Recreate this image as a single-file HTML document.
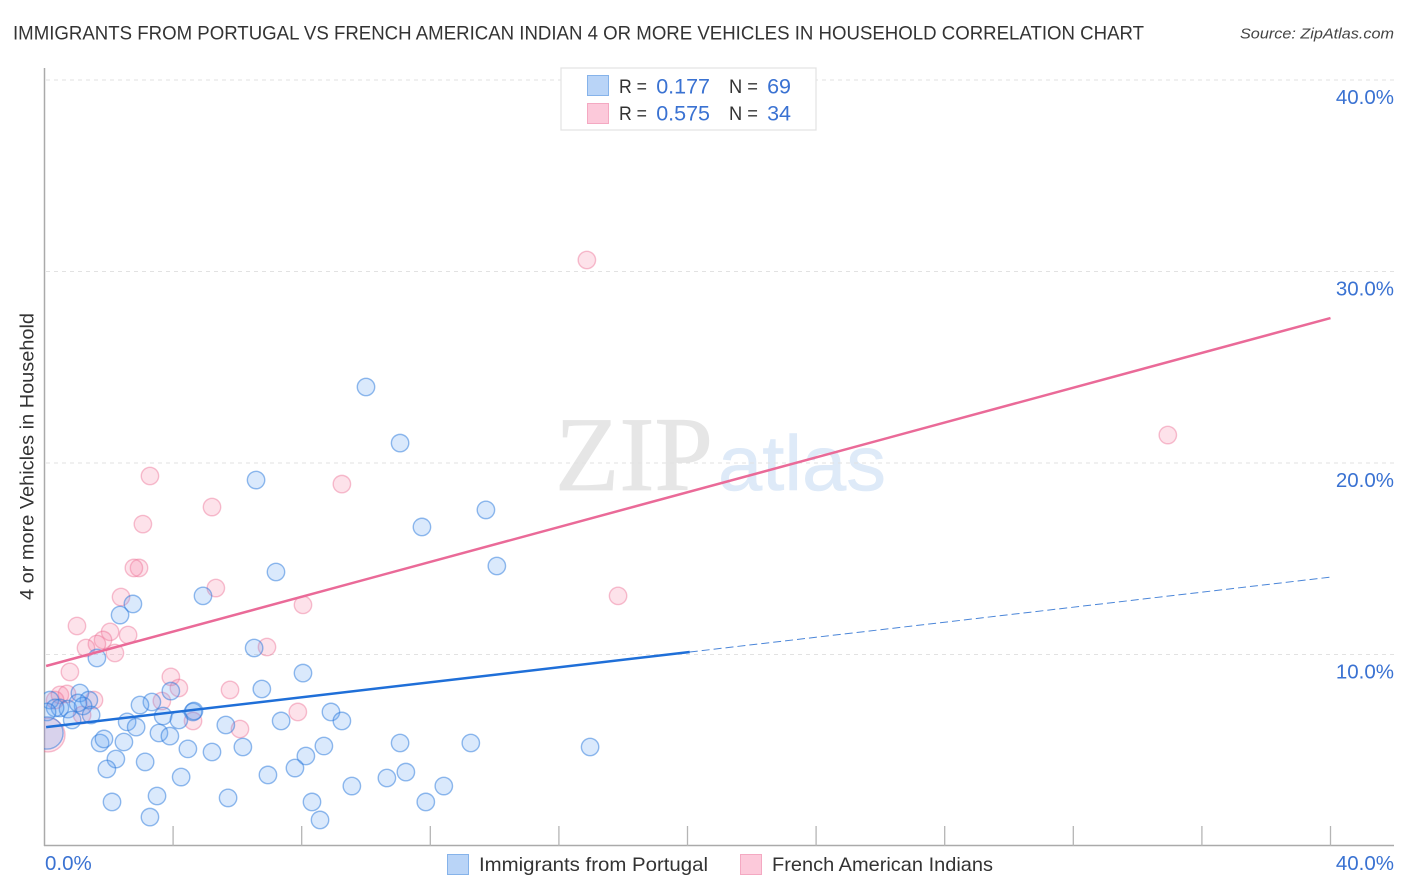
<!DOCTYPE html>
<html lang="en">
<head>
<meta charset="utf-8">
<title>Immigrants from Portugal vs French American Indian correlation chart</title>
<style>
  html, body { margin: 0; padding: 0; background: #fff; }
  svg { display: block; font-family: "Liberation Sans", sans-serif; }
</style>
</head>
<body>
<svg id="chart" xmlns="http://www.w3.org/2000/svg" width="1406" height="892" viewBox="0 0 1406 892">
  <defs>
    <clipPath id="plot-clip"><rect x="44" y="60" width="1350" height="786"/></clipPath>
  </defs>
  <rect width="1406" height="892" fill="#fff"/>

  <text x="13" y="39.500" font-size="19.500" fill="#333" textLength="1131" lengthAdjust="spacingAndGlyphs">IMMIGRANTS FROM PORTUGAL VS FRENCH AMERICAN INDIAN 4 OR MORE VEHICLES IN HOUSEHOLD CORRELATION CHART</text>
  <text x="1394" y="38.500" font-size="15" font-style="italic" fill="#444" text-anchor="end" textLength="154" lengthAdjust="spacingAndGlyphs">Source: ZipAtlas.com</text>

  <g>
    <text x="555" y="490" font-family="'Liberation Serif', serif" font-size="106" fill="#e6e6e6" stroke="#e6e6e6" stroke-width="0.800" textLength="158" lengthAdjust="spacingAndGlyphs">ZIP</text>
    <text x="718" y="490" font-size="78" fill="#deeaf8" stroke="#deeaf8" stroke-width="0.600" textLength="168" lengthAdjust="spacingAndGlyphs">atlas</text>
  </g>

  <g id="grid"></g>
  <g id="axes"></g>
  <g id="pink-points" clip-path="url(#plot-clip)"></g>
  <g id="blue-points" clip-path="url(#plot-clip)"></g>
  <g id="trends"></g>
  <g id="labels"></g>

  <text transform="translate(33.500 456.500) rotate(-90)" font-size="19" fill="#333" text-anchor="middle" textLength="287" lengthAdjust="spacingAndGlyphs">4 or more Vehicles in Household</text>

  <g>
    <rect x="561" y="68" width="255" height="62" fill="#fff" stroke="#e2e2e2" stroke-width="1.200"/>
    <rect x="587.500" y="75.500" width="21" height="20" fill="#b9d4f7" stroke="#86b3ea" stroke-width="1"/>
    <rect x="587.500" y="103.500" width="21" height="20" fill="#fcc9da" stroke="#f4a9c2" stroke-width="1"/>
    <g font-size="19.500" fill="#333">
      <text x="619" y="93" textLength="28" lengthAdjust="spacingAndGlyphs">R =</text>
      <text x="729" y="93" textLength="29" lengthAdjust="spacingAndGlyphs">N =</text>
      <text x="619" y="120" textLength="28" lengthAdjust="spacingAndGlyphs">R =</text>
      <text x="729" y="120" textLength="29" lengthAdjust="spacingAndGlyphs">N =</text>
    </g>
    <g font-size="21.500" fill="#3a72d2" text-anchor="end">
      <text x="710" y="93.500">0.177</text>
      <text x="791" y="93.500">69</text>
      <text x="710" y="120.500">0.575</text>
      <text x="791" y="120.500">34</text>
    </g>
  </g>

  <g>
    <rect x="447.500" y="854.500" width="21" height="20" fill="#b9d4f7" stroke="#86b3ea" stroke-width="1"/>
    <text x="479" y="871" font-size="19.500" fill="#333" textLength="229" lengthAdjust="spacingAndGlyphs">Immigrants from Portugal</text>
    <rect x="740.500" y="854.500" width="21" height="20" fill="#fcc9da" stroke="#f4a9c2" stroke-width="1"/>
    <text x="772" y="871" font-size="19.500" fill="#333" textLength="221" lengthAdjust="spacingAndGlyphs">French American Indians</text>
  </g>
</svg>

<script>
const yTickValues = [10, 20, 30, 40];
const yTickLabels = ["10.0%", "20.0%", "30.0%", "40.0%"];
const xTickValues = [4, 8, 12, 16, 20, 24, 28, 32, 36, 40];
const xEndValues = [0, 40];
const xEndLabels = ["0.0%", "40.0%"];

const blueX = [10.00,11.06,6.58,13.73,11.74,14.07,7.20,4.93,2.75,2.35,1.63,6.52,8.04,6.76,3.93,1.10,1.38,3.34,2.97,0.17,0.48,0.73,1.20,1.45,0.86,0.33,4.62,4.65,8.91,3.69,4.18,2.57,2.85,5.64,7.36,9.25,3.56,3.90,1.73,1.85,2.47,4.46,5.21,6.17,11.06,13.26,16.97,8.13,8.69,2.22,3.13,1.94,4.25,6.95,7.79,10.65,11.24,9.56,12.42,3.50,5.71,2.10,8.32,11.86,3.28,8.57,0.08,1.04,0.08];
const blueY = [23.97,21.04,19.11,17.55,16.66,14.62,14.31,13.06,12.64,12.06,9.82,10.34,9.03,8.20,8.09,7.99,7.62,7.52,7.36,7.62,7.21,7.15,7.31,6.84,6.58,7.21,7.00,7.05,7.00,6.79,6.58,6.48,6.21,6.32,6.53,6.53,5.90,5.74,5.38,5.59,5.43,5.07,4.91,5.17,5.38,5.38,5.17,4.70,5.22,4.54,4.39,4.02,3.60,3.71,4.07,3.55,3.86,3.13,3.13,2.61,2.51,2.30,2.30,2.30,1.51,1.36,7.00,7.47,5.90];
const blueWeight = [1,1,1,1,1,1,1,1,1,1,1,1,1,1,1,1,1,1,1,1,1,1,1,1,1,1,1,1,1,1,1,1,1,1,1,1,1,1,1,1,1,1,1,1,1,1,1,1,1,1,1,1,1,1,1,1,1,1,1,1,1,1,1,1,1,1,1,1,3.4];

const pinkX = [16.87,34.94,9.25,3.28,5.21,3.06,2.94,2.78,17.84,5.33,2.38,8.04,1.01,2.04,2.60,1.82,1.63,1.29,2.19,6.92,0.79,3.93,4.18,5.77,1.54,3.65,7.88,4.62,6.08,0.48,0.70,0.33,1.17,0.11];
const pinkY = [30.60,21.46,18.90,19.32,17.70,16.81,14.52,14.52,13.06,13.47,13.00,12.59,11.49,11.18,11.02,10.76,10.55,10.34,10.08,10.39,9.09,8.83,8.25,8.15,7.62,7.57,7.00,6.53,6.11,7.89,7.94,7.62,6.84,5.80];
const pinkWeight = [1,1,1,1,1,1,1,1,1,1,1,1,1,1,1,1,1,1,1,1,1,1,1,1,1,1,1,1,1,1,1,1,1,3.8];

const blueTrendX = [0.05, 20.07];
const blueTrendY = [6.21, 10.13];
const blueForecastX = [20.07, 40.05];
const blueForecastY = [10.13, 14.05];
const pinkTrendX = [0.05, 40];
const pinkTrendY = [9.40, 27.57];

const NS = "http://www.w3.org/2000/svg";
const xScale = v => 44.5 + v * 32.15;
const yScale = v => 846 - v * 19.15;
const radius = w => 8.7 * Math.sqrt(w);

function make(tag, attrs, parent) {
  const el = document.createElementNS(NS, tag);
  for (const k in attrs) el.setAttribute(k, attrs[k]);
  parent.appendChild(el);
  return el;
}

const gridG = document.getElementById("grid");
const axesG = document.getElementById("axes");
const labelsG = document.getElementById("labels");

yTickValues.forEach((v, i) => {
  const line = make("line", {x1: 46, x2: 1394, y1: yScale(v), y2: yScale(v), stroke: "#e2e2e2", "stroke-width": 1, "stroke-dasharray": "4 4"}, gridG);
  
  
  const t = make("text", {x: 1394, y: yScale(v) + 24, "font-size": 20.5, fill: "#3a72d2", "text-anchor": "end"}, labelsG);
  
  
  t.textContent = yTickLabels[i];
});

const yAxis = make("line", {x1: 44.5, x2: 44.5, y1: 68, y2: 846, stroke: "#aaa", "stroke-width": 1.5}, axesG);


const xAxis = make("line", {x1: 44, x2: 1394, y1: 845.5, y2: 845.5, stroke: "#aaa", "stroke-width": 1.5}, axesG);



xTickValues.forEach(v => {
  const tick = make("line", {x1: xScale(v), x2: xScale(v), y1: 826, y2: 846, stroke: "#b5b5b5", "stroke-width": 1.3}, axesG);
  
  
});

xEndValues.forEach((v, i) => {
  const t = make("text", {x: i === 0 ? xScale(v) + 0.5 : 1394, y: 870, "font-size": 20.5, fill: "#3a72d2", "text-anchor": i === 0 ? "start" : "end"}, labelsG);
  
  
  t.textContent = xEndLabels[i];
});

const pinkG = document.getElementById("pink-points");
pinkX.forEach((v, i) => {
  const c = make("circle", {cx: xScale(v), cy: yScale(pinkY[i]), r: radius(pinkWeight[i]), fill: "rgba(245,130,165,0.23)", stroke: "rgba(235,100,140,0.4)", "stroke-width": 1.4}, pinkG);
  
  
});

const blueG = document.getElementById("blue-points");
blueX.forEach((v, i) => {
  const c = make("circle", {cx: xScale(v), cy: yScale(blueY[i]), r: radius(blueWeight[i]), fill: "rgba(95,160,240,0.23)", stroke: "rgba(40,120,220,0.5)", "stroke-width": 1.4}, blueG);
  
  
});

const trendsG = document.getElementById("trends");
const blueForecast = make("line", {x1: xScale(blueForecastX[0]), y1: yScale(blueForecastY[0]), x2: xScale(blueForecastX[1]), y2: yScale(blueForecastY[1]), stroke: "#4a85d8", "stroke-width": 1, "stroke-dasharray": "8 4"}, trendsG);


const blueTrend = make("line", {x1: xScale(blueTrendX[0]), y1: yScale(blueTrendY[0]), x2: xScale(blueTrendX[1]), y2: yScale(blueTrendY[1]), stroke: "#1f6fd8", "stroke-width": 2.5}, trendsG);


const pinkTrend = make("line", {x1: xScale(pinkTrendX[0]), y1: yScale(pinkTrendY[0]), x2: xScale(pinkTrendX[1]), y2: yScale(pinkTrendY[1]), stroke: "#ea6a98", "stroke-width": 2.5}, trendsG);


</script>
</body>
</html>
